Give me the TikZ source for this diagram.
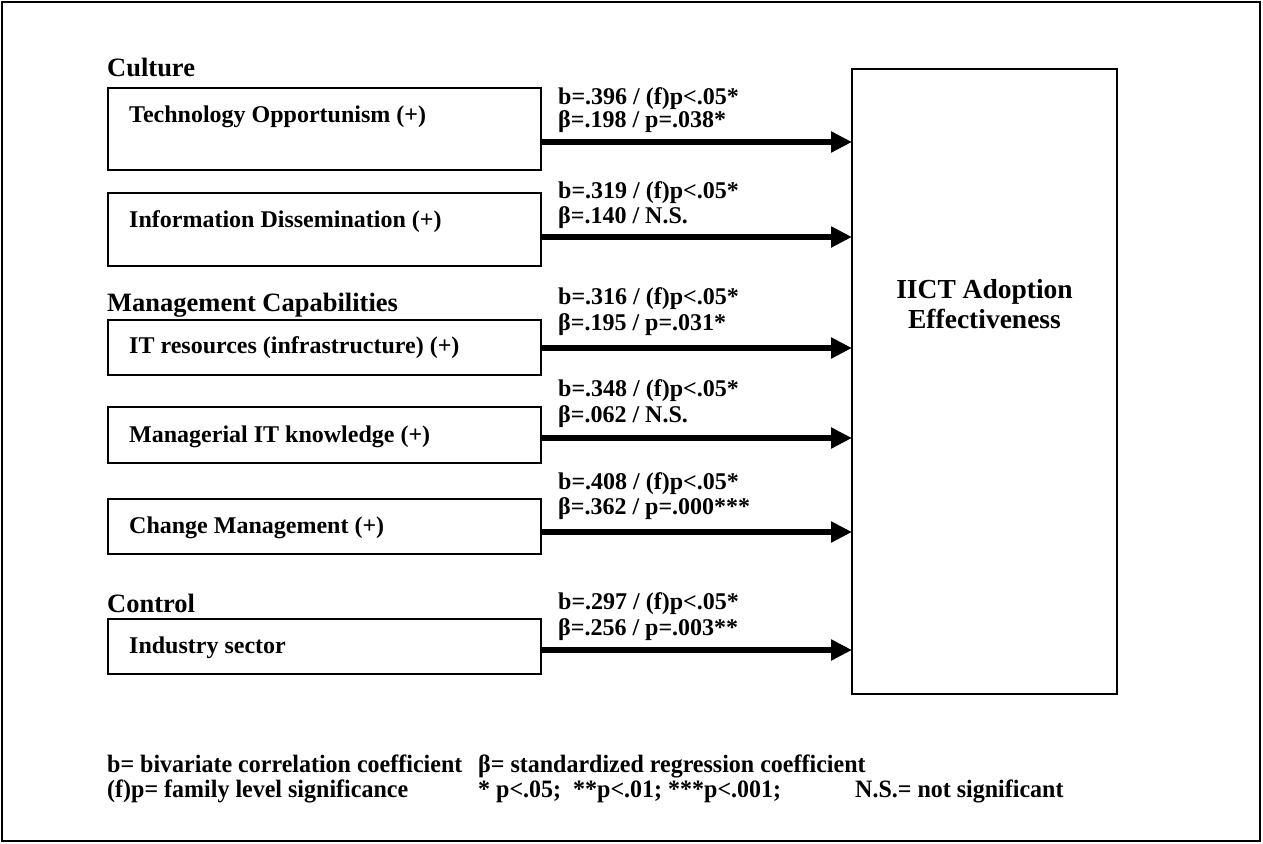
\documentclass[tikz,border=0pt]{standalone}
\usepackage{fontspec}
\setmainfont{Liberation Serif}
\newfontfamily\legendfont[FakeStretch=0.96]{Liberation Serif}
\usetikzlibrary{arrows.meta}

\begin{document}
\begin{tikzpicture}[x=1pt,y=-1pt,
  frame/.style={draw, line width=2.5pt},
  factor/.style={draw, line width=2pt, minimum width=433pt, inner sep=0pt, outer sep=0pt},
  outcome/.style={draw, line width=2pt, minimum width=265pt, minimum height=625pt, inner sep=0pt, outer sep=0pt},
  boxtext/.style={anchor=base west, inner sep=0pt, font=\bfseries\fontsize{24}{28}\selectfont},
  heading/.style={anchor=base west, inner sep=0pt, font=\bfseries\fontsize{26.5}{30}\selectfont},
  coef/.style={anchor=base west, inner sep=0pt, font=\bfseries\fontsize{24}{28}\selectfont},
  outtext/.style={anchor=base, inner sep=0pt, font=\bfseries\fontsize{27.5}{30}\selectfont},
  legend/.style={anchor=base west, inner sep=0pt, font=\legendfont\bfseries\fontsize{25}{27}\selectfont},
  effect/.style={line width=6pt, -{Triangle[length=21pt,width=20pt]}},
]
\useasboundingbox (0,0) rectangle (1263,843);
\draw[frame] (2,2) rectangle (1260,841);

% group headings
\node[heading] (hcult) at (107,77) {Culture};
\node[heading] (hman)  at (107,311) {Management Capabilities};
\node[heading] (hctrl) at (107,612) {Control};

% factor boxes
\node[factor, minimum height=82pt] (n1) at (324.5,129) {};
\node[factor, minimum height=73pt] (n2) at (324.5,229.5) {};
\node[factor, minimum height=55pt] (n3) at (324.5,347.5) {};
\node[factor, minimum height=56pt] (n4) at (324.5,435) {};
\node[factor, minimum height=55pt] (n5) at (324.5,526.5) {};
\node[factor, minimum height=55pt] (n6) at (324.5,646.5) {};

\node[boxtext] (t1) at (129,122) {Technology Opportunism (+)};
\node[boxtext] (t2) at (129,227) {Information Dissemination (+)};
\node[boxtext] (t3) at (129,353) {IT resources (infrastructure) (+)};
\node[boxtext] (t4) at (129,442) {Managerial IT knowledge (+)};
\node[boxtext] (t5) at (129,533) {Change Management (+)};
\node[boxtext] (t6) at (129,653) {Industry sector};

% outcome box
\node[outcome] (big) at (984.5,381.5) {};
\node[outtext] (o1) at (984.5,298) {IICT Adoption};
\node[outtext] (o2) at (984.5,328) {Effectiveness};

% effect arrows
\coordinate (s1) at ([yshift=-13pt]n1.east);
\coordinate (s2) at ([yshift=-7.5pt]n2.east);
\coordinate (s3) at ([yshift=-0.5pt]n3.east);
\coordinate (s4) at ([yshift=-3pt]n4.east);
\coordinate (s5) at ([yshift=-5.5pt]n5.east);
\coordinate (s6) at ([yshift=-3.5pt]n6.east);
\foreach \i in {1,...,6}{
  \draw[effect] (s\i) -- (s\i -| big.west);
}

% coefficients
\node[coef] (c1a) at (558,104) {b=.396 / (f)p<.05*};
\node[coef] (c1b) at (558,127) {β=.198 / p=.038*};
\node[coef] (c2a) at (558,198) {b=.319 / (f)p<.05*};
\node[coef] (c2b) at (558,223) {β=.140 / N.S.};
\node[coef] (c3a) at (558,304) {b=.316 / (f)p<.05*};
\node[coef] (c3b) at (558,330) {β=.195 / p=.031*};
\node[coef] (c4a) at (558,396) {b=.348 / (f)p<.05*};
\node[coef] (c4b) at (558,422) {β=.062 / N.S.};
\node[coef] (c5a) at (558,489) {b=.408 / (f)p<.05*};
\node[coef] (c5b) at (558,514) {β=.362 / p=.000***};
\node[coef] (c6a) at (558,609) {b=.297 / (f)p<.05*};
\node[coef] (c6b) at (558,635) {β=.256 / p=.003**};

% key
\node[legend] (k1) at (107,772) {b= bivariate correlation coefficient};
\node[legend] (k2) at (478,772) {β= standardized regression coefficient};
\node[legend] (k3) at (107,797) {(f)p= family level significance};
\node[legend] (k4) at (478,797) {* p<.05;\ \ **p<.01; ***p<.001;};
\node[legend] (k5) at (855,797) {N.S.= not significant};
\end{tikzpicture}
\end{document}
